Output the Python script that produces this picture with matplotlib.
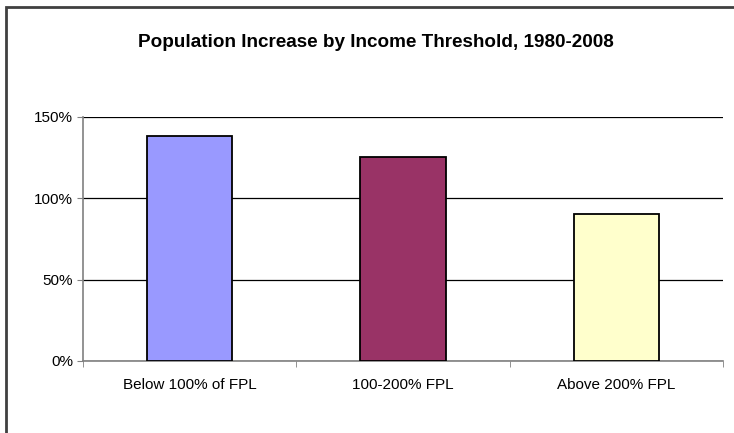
import matplotlib
matplotlib.use("Agg")
import matplotlib.pyplot as plt
from matplotlib.patches import Rectangle
from matplotlib.ticker import FixedLocator, FuncFormatter

categories = ["Below 100% of FPL", "100-200% FPL", "Above 200% FPL"]
values = [138.3, 125.6, 90.3]
colors = ["#9999FF", "#993366", "#FFFFCC"]
yticks = [0, 50, 100, 150]

plt.rcParams['font.family'] = ['Liberation Sans', 'DejaVu Sans']

fig = plt.figure(figsize=(7.34, 4.33), dpi=100)
W, H = 734, 433
ax = fig.add_axes([83 / W, (H - 361) / H, (723 - 83) / W, (361 - 117) / H])

x = list(range(len(categories)))
ax.bar(x, values, width=0.4, color=colors, edgecolor="black", linewidth=1.3, zorder=3)

ax.set_xlim(-0.5, len(categories) - 0.5)
ax.set_ylim(0, 150)
ax.set_yticks(yticks)
ax.yaxis.set_major_formatter(FuncFormatter(lambda v, p: f"{int(v)}%"))
ax.yaxis.grid(True, color="black", linewidth=0.9, zorder=0)
ax.set_axisbelow(True)

ax.set_xticks(x)
ax.set_xticklabels(categories)
ax.xaxis.set_minor_locator(FixedLocator([-0.5 + i for i in range(len(categories) + 1)]))
ax.tick_params(axis="x", which="major", length=0, labelsize=11, pad=12)
ax.tick_params(axis="x", which="minor", length=4, color="#808080", direction="out")
ax.tick_params(axis="y", length=4, color="#808080", labelsize=11, pad=3)

for s in ["top", "right"]:
    ax.spines[s].set_visible(False)
for s in ["left", "bottom"]:
    ax.spines[s].set_color("#808080")
    ax.spines[s].set_linewidth(1.2)

fig.text(375.5 / W, 1 - 47 / H, "Population Increase by Income Threshold, 1980-2008",
         ha="center", va="baseline", fontsize=13.6, fontweight="bold")

# outer chart border (only top and left visible)
fig.add_artist(Rectangle((6 / W, -0.1), 1.2, 1 - 7 / H + 0.1, transform=fig.transFigure,
                         fill=False, edgecolor="#404040", linewidth=2))

fig.savefig("out.png", dpi=100)
